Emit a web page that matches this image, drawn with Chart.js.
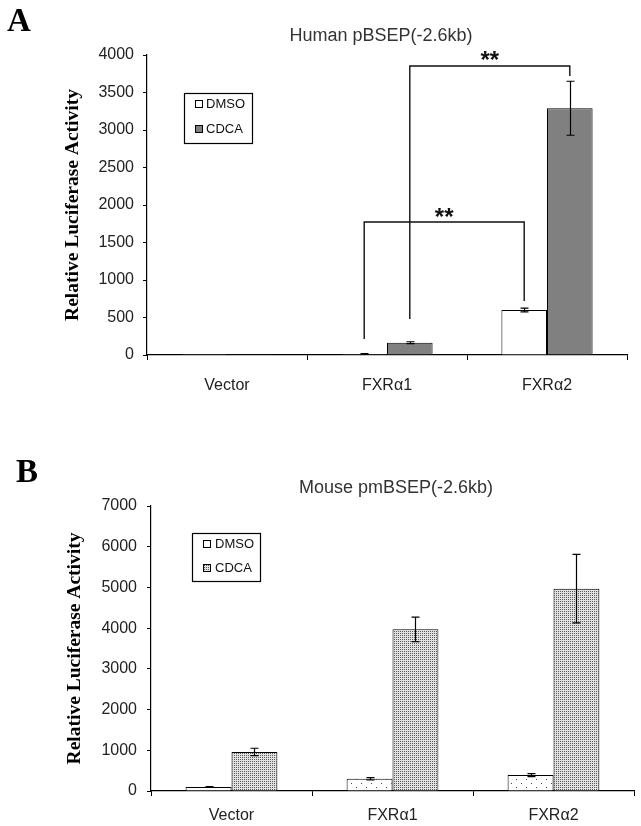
<!DOCTYPE html>
<html>
<head>
<meta charset="utf-8">
<script src="https://cdn.jsdelivr.net/npm/chart.js@4.4.1/dist/chart.umd.min.js"></script>
<style>
  html, body { margin: 0; padding: 0; background: #fff; }
  #page { position: relative; width: 641px; height: 826px; overflow: hidden; }
  .panel { position: absolute; left: 0; width: 641px; height: 413px; }
  .letter { position: absolute; font: bold 33px "Liberation Serif", serif; line-height: 33px; color: #000; }
  .ptitle { position: absolute; font: 18px "Liberation Sans", Arial, sans-serif; line-height: 18px; color: #333;
            transform: translateX(-50%); white-space: nowrap; }
</style>
</head>
<body>
<div id="page">
  <div class="panel" style="top:0"><canvas id="chartA" width="641" height="413"></canvas></div>
  <div class="panel" style="top:413px"><canvas id="chartB" width="641" height="413"></canvas></div>
  <div class="letter" style="left:7px;top:4px">A</div>
  <div class="letter" style="left:16px;top:455px">B</div>
  <div class="ptitle" style="left:381px;top:26px">Human pBSEP(-2.6kb)</div>
  <div class="ptitle" style="left:396px;top:478px">Mouse pmBSEP(-2.6kb)</div>
</div>

<script>
// ── Data ──
var categories = ['Vector', 'FXR\u03b11', 'FXR\u03b12'];
var seriesNames = ['DMSO', 'CDCA'];

// Panel A — Human pBSEP(-2.6kb)
var humanDmso = [1, 15, 600];
var humanDmsoErr = [0, 3, 25];
var humanCdca = [2, 165, 3290];
var humanCdcaErr = [0, 12, 360];
var humanTicks = { max: 4000, step: 500 };
// bracket: [dataset, index] -> [dataset, index], bar height, leg ends, stars height
var humanBrackets = [
  { from: [0, 1], to: [0, 2], bar: 1773, leftEnd: 213, rightEnd: 720, stars: 1907, text: '**' },
  { from: [1, 1], to: [1, 2], bar: 3853, leftEnd: 480, rightEnd: 3720, stars: 4000, text: '**' }
];

// Panel B — Mouse pmBSEP(-2.6kb)
var mouseDmso = [100, 300, 390];
var mouseDmsoErr = [8, 30, 35];
var mouseCdca = [960, 3970, 4970];
var mouseCdcaErr = [90, 300, 840];
var mouseTicks = { max: 7000, step: 1000 };

var yTitle = 'Relative Luciferase Activity';

// ── Fill patterns for panel B ──
function makePattern(w, h, bg, dots, dotColor) {
  var c = document.createElement('canvas');
  c.width = w; c.height = h;
  var g = c.getContext('2d');
  g.fillStyle = bg; g.fillRect(0, 0, w, h);
  g.fillStyle = dotColor;
  dots.forEach(function (d) { g.fillRect(d[0], d[1], 1, 1); });
  return document.createElement('canvas').getContext('2d').createPattern(c, 'repeat');
}
var sparseDots = makePattern(10, 8, '#ffffff', [[1, 2], [6, 6]], '#444444');
var denseDots = makePattern(2, 2, '#e2e2e2', [[0, 0]], '#5a5a5a');

// ── Plugins ──
var errorBars = {
  id: 'errorBars',
  afterDatasetsDraw: function (chart) {
    var ctx = chart.ctx, y = chart.scales.y;
    ctx.save();
    ctx.strokeStyle = '#000';
    ctx.lineWidth = 1.2;
    chart.data.datasets.forEach(function (ds, i) {
      if (!ds.errors) return;
      chart.getDatasetMeta(i).data.forEach(function (bar, j) {
        var e = ds.errors[j];
        if (!e) return;
        var t = y.getPixelForValue(ds.data[j] + e);
        var b = y.getPixelForValue(Math.max(0, ds.data[j] - e));
        var x = Math.round(bar.x) + 0.5;
        ctx.beginPath();
        ctx.moveTo(x, t); ctx.lineTo(x, b);
        ctx.moveTo(x - 4, t); ctx.lineTo(x + 4, t);
        ctx.moveTo(x - 4, b); ctx.lineTo(x + 4, b);
        ctx.stroke();
      });
    });
    ctx.restore();
  }
};

var brackets = {
  id: 'brackets',
  afterDatasetsDraw: function (chart, args, opts) {
    if (!opts.items) return;
    var ctx = chart.ctx, y = chart.scales.y;
    ctx.save();
    ctx.strokeStyle = '#111';
    ctx.lineWidth = 1.4;
    ctx.fillStyle = '#111';
    ctx.font = 'bold 24px "Liberation Sans", Arial, sans-serif';
    ctx.textAlign = 'center';
    ctx.textBaseline = 'alphabetic';
    opts.items.forEach(function (b) {
      var x1 = chart.getDatasetMeta(b.from[0]).data[b.from[1]].x;
      var x2 = chart.getDatasetMeta(b.to[0]).data[b.to[1]].x;
      var yb = y.getPixelForValue(b.bar);
      ctx.beginPath();
      ctx.moveTo(x1, y.getPixelForValue(b.leftEnd));
      ctx.lineTo(x1, yb);
      ctx.lineTo(x2, yb);
      ctx.lineTo(x2, y.getPixelForValue(b.rightEnd));
      ctx.stroke();
      ctx.fillText(b.text, (x1 + x2) / 2, y.getPixelForValue(b.stars) + 13);
    });
    ctx.restore();
  }
};

var boxLegend = {
  id: 'boxLegend',
  afterDraw: function (chart, args, opts) {
    var ctx = chart.ctx, area = chart.chartArea;
    var x0 = area.left + opts.dx, y0 = area.top + opts.dy;
    ctx.save();
    ctx.strokeStyle = '#000';
    ctx.lineWidth = 1.2;
    ctx.fillStyle = '#fff';
    ctx.fillRect(x0, y0, opts.w, opts.h);
    ctx.strokeRect(x0 + 0.5, y0 + 0.5, opts.w, opts.h);
    ctx.font = '13px "Liberation Sans", Arial, sans-serif';
    ctx.textBaseline = 'middle';
    chart.data.datasets.forEach(function (ds, i) {
      var cy = y0 + opts.rows[i];
      ctx.fillStyle = ds.backgroundColor;
      ctx.fillRect(x0 + opts.sx, cy - 3.5, 7, 7);
      ctx.lineWidth = 1;
      ctx.strokeRect(x0 + opts.sx + 0.5, cy - 3.5, 7, 7);
      ctx.fillStyle = '#111';
      ctx.fillText(ds.label, x0 + opts.tx, cy);
    });
    ctx.restore();
  }
};

// ── Chart builder ──
function buildChart(id, p) {
  var tickFont = { family: '"Liberation Sans", Arial, sans-serif', size: 16 };
  return new Chart(document.getElementById(id), {
    type: 'bar',
    data: {
      labels: categories,
      datasets: [
        { label: seriesNames[0], data: p.dmso, errors: p.dmsoErr, backgroundColor: p.dmsoFill,
          borderColor: '#000', borderWidth: 1, categoryPercentage: 0.57, barPercentage: 1 },
        { label: seriesNames[1], data: p.cdca, errors: p.cdcaErr, backgroundColor: p.cdcaFill,
          borderColor: '#000', borderWidth: 1, categoryPercentage: 0.57, barPercentage: 1 }
      ]
    },
    options: {
      responsive: false,
      animation: false,
      layout: { padding: { top: p.top, right: p.right, left: 0, bottom: 0 } },
      plugins: {
        legend: { display: false },
        tooltip: { enabled: false },
        brackets: { items: p.brackets },
        boxLegend: p.legend
      },
      scales: {
        x: {
          grid: { display: true, drawOnChartArea: false, drawTicks: true, tickLength: 5, color: '#000', offset: true },
          border: { display: true, color: '#000', width: 1.2 },
          ticks: { font: tickFont, color: '#222', padding: p.xPad, maxRotation: 0 },
          afterFit: function (s) { s.height = p.xHeight; }
        },
        y: {
          min: 0, max: p.ticks.max,
          grid: { display: true, drawOnChartArea: false, drawTicks: true, tickLength: 4, color: '#000' },
          border: { display: true, color: '#000', width: 1.2 },
          ticks: { stepSize: p.ticks.step, font: tickFont, color: '#222', padding: p.yPad,
                   callback: function (v) { return String(v); } },
          title: { display: true, text: yTitle, color: '#000',
                   font: { family: '"Liberation Serif", "Times New Roman", serif', size: 19.5, weight: 'bold' },
                   padding: { top: p.titlePad, bottom: 0 } },
          afterFit: function (s) { s.width = p.yWidth; }
        }
      }
    },
    plugins: [errorBars, brackets, boxLegend]
  });
}

buildChart('chartA', {
  dmso: humanDmso, dmsoErr: humanDmsoErr, cdca: humanCdca, cdcaErr: humanCdcaErr,
  dmsoFill: '#ffffff', cdcaFill: '#808080', ticks: humanTicks, brackets: humanBrackets,
  top: 55, right: 14, xHeight: 58, xPad: 16, yWidth: 147, yPad: 9, titlePad: 61,
  legend: { dx: 37, dy: 38, w: 68, h: 50, rows: [11, 36], sx: 11, tx: 22 }
});

buildChart('chartB', {
  dmso: mouseDmso, dmsoErr: mouseDmsoErr, cdca: mouseCdca, cdcaErr: mouseCdcaErr,
  dmsoFill: sparseDots, cdcaFill: denseDots, ticks: mouseTicks, brackets: [],
  top: 93, right: 7, xHeight: 35, xPad: 10, yWidth: 151, yPad: 10, titlePad: 63,
  legend: { dx: 41, dy: 27, w: 68, h: 48, rows: [11, 35], sx: 11, tx: 23 }
});
</script>
</body>
</html>
